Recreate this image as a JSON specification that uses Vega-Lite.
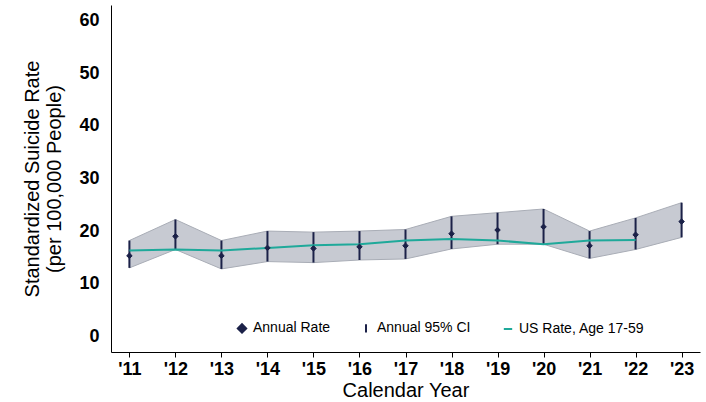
{
  "$schema": "https://vega.github.io/schema/vega-lite/v6.json",
  "autosize": {"type": "fit", "contains": "padding"},
  "width": 706,
  "height": 402,
  "padding": {"left": 22, "right": 6, "top": 5, "bottom": 2},
  "data": {
    "values": [
      {"yr": "'11", "rate": 15.3, "lo": 13.0, "hi": 18.2, "us": 16.3},
      {"yr": "'12", "rate": 19.0, "lo": 16.5, "hi": 22.2, "us": 16.5},
      {"yr": "'13", "rate": 15.3, "lo": 12.8, "hi": 18.2, "us": 16.3},
      {"yr": "'14", "rate": 16.8, "lo": 14.2, "hi": 20.0, "us": 16.8},
      {"yr": "'15", "rate": 16.7, "lo": 14.0, "hi": 19.8, "us": 17.3},
      {"yr": "'16", "rate": 17.0, "lo": 14.5, "hi": 20.0, "us": 17.5},
      {"yr": "'17", "rate": 17.2, "lo": 14.7, "hi": 20.3, "us": 18.2},
      {"yr": "'18", "rate": 19.5, "lo": 16.6, "hi": 22.8, "us": 18.5},
      {"yr": "'19", "rate": 20.2, "lo": 17.5, "hi": 23.5, "us": 18.2},
      {"yr": "'20", "rate": 20.8, "lo": 17.5, "hi": 24.2, "us": 17.5},
      {"yr": "'21", "rate": 17.2, "lo": 14.8, "hi": 20.0, "us": 18.2},
      {"yr": "'22", "rate": 19.3, "lo": 16.5, "hi": 22.5, "us": 18.3},
      {"yr": "'23", "rate": 21.8, "lo": 18.8, "hi": 25.4, "us": null}
    ]
  },
  "encoding": {
    "x": {
      "field": "yr", "type": "ordinal", "sort": null,
      "scale": {"type": "point", "padding": 0.4},
      "title": "Calendar Year",
      "axis": {"labelAngle": 0, "labelFontSize": 18, "labelFontWeight": "bold", "labelColor": "black",
        "titleFontSize": 20, "titleFontWeight": "normal", "titleColor": "black", "titlePadding": 2,
        "domainColor": "black", "tickColor": "black", "tickSize": 5, "labelPadding": 3}
    }
  },
  "layer": [
    {
      "mark": {"type": "area", "color": "#c7cad2", "stroke": "#a9adb6", "strokeWidth": 1},
      "encoding": {
        "y": {"field": "lo", "type": "quantitative", "scale": {"domain": [-3, 63], "nice": false},
          "title": ["Standardized Suicide Rate", "(per 100,000 People)"],
          "axis": {"values": [0, 10, 20, 30, 40, 50, 60], "grid": false, "labelFontSize": 18, "labelFontWeight": "bold",
            "labelColor": "black", "titleFontSize": 20, "titleFontWeight": "normal", "titleColor": "black",
            "domainColor": "black", "ticks": false, "labelPadding": 12, "titlePadding": 14}},
        "y2": {"field": "hi"}
      }
    },
    {
      "mark": {"type": "rule", "strokeWidth": 2, "color": "#1b2148"},
      "encoding": {
        "y": {"field": "lo", "type": "quantitative"},
        "y2": {"field": "hi"}
      }
    },
    {
      "mark": {"type": "line", "strokeWidth": 2, "color": "#1fa99a"},
      "encoding": {
        "y": {"field": "us", "type": "quantitative"}
      }
    },
    {
      "mark": {"type": "point", "filled": false, "fill": "#1b2148", "strokeWidth": 1, "size": 30, "opacity": 1},
      "encoding": {
        "y": {"field": "rate", "type": "quantitative"},
        "color": {"datum": "Annual Rate", "scale": {"domain": ["Annual Rate", "Annual 95% CI", "US Rate, Age 17-59"], "range": ["#1b2148", "#1b2148", "#1fa99a"]}},
        "shape": {"datum": "Annual Rate", "scale": {"domain": ["Annual Rate", "Annual 95% CI", "US Rate, Age 17-59"], "range": ["diamond", "M0,-1L0,1", "stroke"]}}
      }
    }
  ],
  "config": {
    "font": "Liberation Sans",
    "view": {"stroke": null},
    "legend": {
      "orient": "none", "legendX": 124, "legendY": 316, "direction": "horizontal", "title": null,
      "labelFontSize": 14, "labelColor": "black", "columnPadding": 28, "symbolSize": 70, "symbolStrokeWidth": 2,
      "symbolFillColor": "#1b2148"
    },
    "axisX": {"domainWidth": 1},
    "axisY": {"domainWidth": 1}
  }
}
